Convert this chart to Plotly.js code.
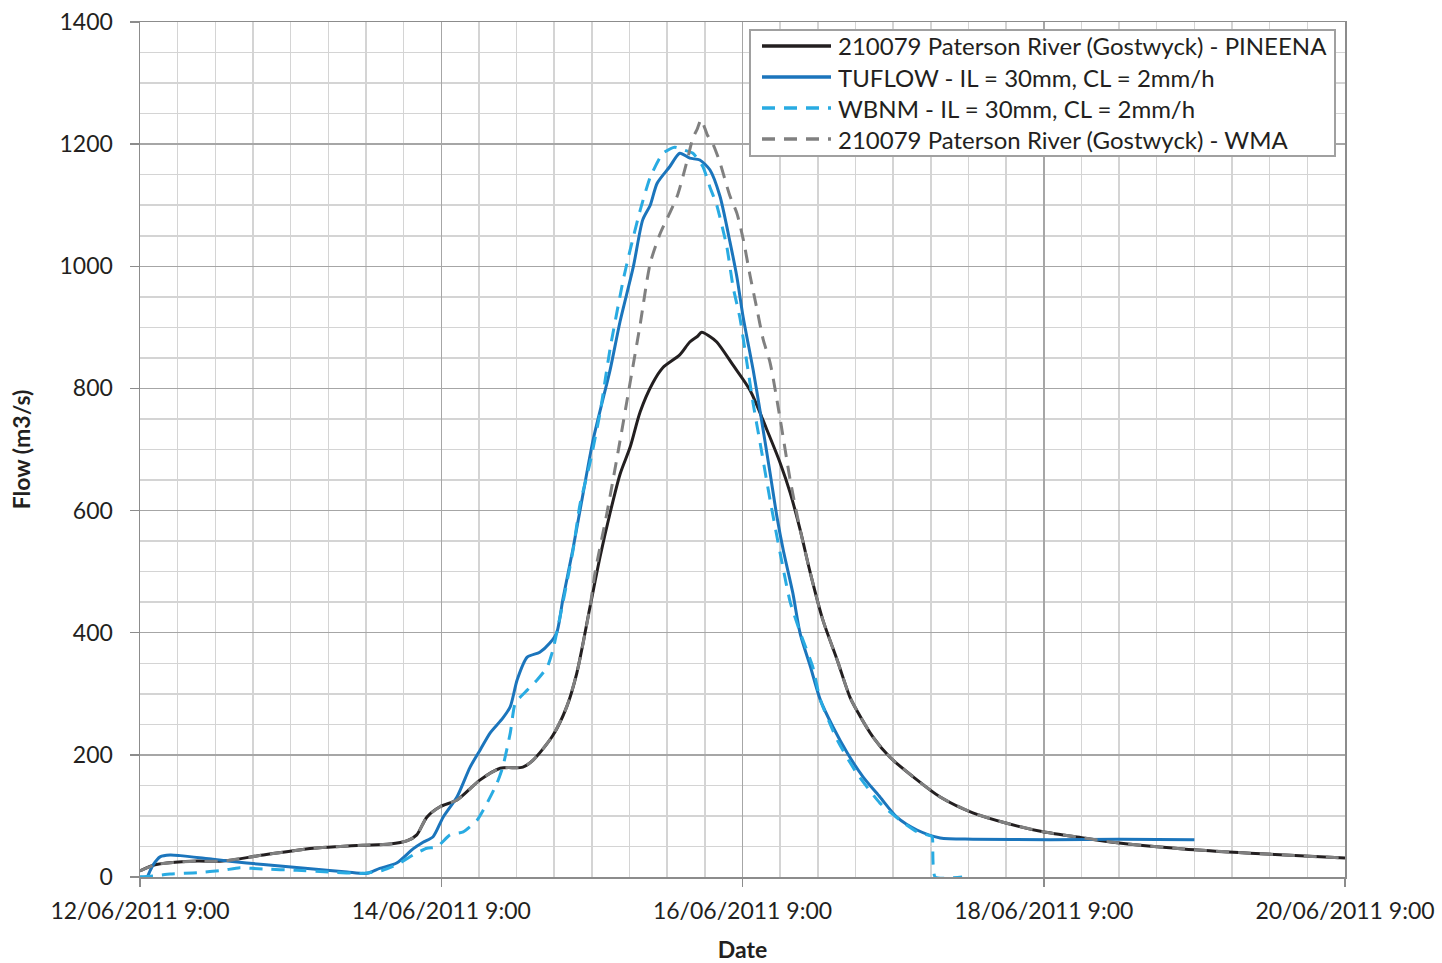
<!DOCTYPE html>
<html>
<head>
<meta charset="utf-8">
<script src="https://cdn.plot.ly/plotly-3.0.1.min.js"></script>
<style>
html,body{margin:0;padding:0;background:#fff;}
#chart{width:1442px;height:963px;}
</style>
</head>
<body>
<div id="chart"></div>
<script>
// Hours after 12/06/2011 9:00
const seriesNames = [
  "210079 Paterson River (Gostwyck) - PINEENA",
  "TUFLOW - IL = 30mm, CL = 2mm/h",
  "WBNM - IL = 30mm, CL = 2mm/h",
  "210079 Paterson River (Gostwyck) - WMA"
];

const pineenaHours = [0,2.4,5.6,9.1,13.2,19.6,27.6,31.9,35.5,39.8,42.5,44.1,45.7,47.8,50.5,54.2,57.4,61.0,62.6,65.8,68.0,69.6,71.7,73.3,74.9,76.5,78.1,79.7,81.7,83.3,86.0,87.6,88.8,89.5,90.8,91.9,94.5,97.2,99.9,102.0,103.6,105.2,106.8,108.8,111.1,113.1,114.2,116.8,119.5,123.2,127.5,132.7,138.1,143.9,150.3,155.7,166.2,176.9,192.0];
const pineenaFlow  = [10,20,24,26,26,36,47,50,52,54,59,69,98,115,126,159,178,180,191,232,279,334,442,524,596,660,704,762,809,834,855,876,885,892,885,876,838,797,732,678,629,568,498,421,355,295,273,229,196,164,131,105,88,74,64,56,46,39,31];

const tuflowHours = [0,1.1,1.6,2.1,3.2,4.8,6.4,11.6,17.0,22.3,27.6,33.0,36.2,38.2,40.9,43.5,45.1,46.7,48.3,50.5,52.6,54.2,55.8,57.8,59.0,60.1,61.7,63.7,65.3,66.4,67.4,69.0,70.6,72.2,73.8,74.9,76.5,78.6,80.1,81.3,82.4,84.4,86.0,87.6,89.2,90.8,92.4,94.0,95.1,96.1,97.7,98.8,100.4,101.5,102.5,104.0,105.2,106.8,108.4,110.4,112.7,115.2,117.9,120.6,123.8,127.5,132.7,145.0,156.1,168.0];
const tuflowFlow  = [0,0,10,20,33,36,35,29,23,18,13,8,6,14,23,46,57,66,98,131,180,208,236,260,279,323,360,368,383,400,456,538,628,716,784,830,910,999,1076,1100,1136,1163,1185,1177,1174,1158,1115,1040,983,917,830,763,661,589,535,466,398,345,290,246,203,164,131,98,77,64,62,61,62,61];

const wbnmHours = [0,2.4,4.8,9.1,13.2,15.9,19.6,25.0,30.3,35.5,38.7,40.9,43.5,45.7,47.3,49.4,51.5,53.7,55.3,56.9,57.8,59.0,59.8,61.7,63.3,64.9,65.8,66.4,67.4,69.0,70.1,71.7,73.3,74.9,77.0,78.1,79.7,81.3,83.3,85.2,86.8,88.1,89.7,90.8,91.9,93.5,94.5,95.6,96.7,97.7,98.8,100.4,102.0,103.6,105.2,107.2,108.4,111.1,114.2,117.9,121.1,123.8,126.2,126.3,126.7,131.0];
const wbnmFlow  = [0,2,5,7,11,15,13,11,8,6,11,20,36,47,49,69,74,93,121,154,180,236,285,306,323,344,372,400,450,535,610,678,760,865,978,1027,1092,1146,1185,1195,1190,1185,1163,1130,1100,1032,966,915,842,775,711,617,530,450,400,344,290,224,170,121,93,74,66,60,0,0];

const wmaHours = [0,2.4,5.6,9.1,13.2,19.6,27.6,31.9,35.5,39.8,42.5,44.1,45.7,47.8,50.5,54.2,57.4,61.0,62.6,65.8,68.0,69.6,71.7,72.5,74.4,76.5,78.1,79.7,81.3,82.9,84.4,85.7,87.2,88.1,88.8,89.4,90.4,91.3,92.4,94.0,95.1,96.1,97.2,98.3,99.3,100.4,102.0,103.6,105.2,106.8,108.8,111.1,113.1,114.2,116.8,119.5,123.2,127.5,132.7,138.1,143.9,150.3,155.7,166.2,176.9,192.0];
const wmaFlow  = [10,20,24,26,26,36,47,50,52,54,59,69,98,115,126,159,178,180,191,232,279,334,442,498,596,715,810,905,1005,1054,1087,1118,1174,1210,1225,1240,1215,1200,1170,1115,1087,1045,985,930,880,842,750,650,568,498,421,355,295,273,229,196,164,131,105,88,74,64,56,46,39,31];

const seriesColors = ["#231f20", "#1b75bc", "#29abe2", "#808080"];
const seriesDash = ["solid", "solid", "13px,9px", "13px,9px"];
const seriesSmooth = [0.8, 0.7, 0.5, 0.7];

const yTickVals = [0,200,400,600,800,1000,1200,1400];
const xTickLabels = ["12/06/2011 9:00","14/06/2011 9:00","16/06/2011 9:00","18/06/2011 9:00","20/06/2011 9:00"];

const base = Date.UTC(2011, 5, 12, 9, 0, 0);
function pad(n){return (n<10?"0":"")+n;}
function toDate(h){
  const d = new Date(base + Math.round(h*3600000));
  return d.getUTCFullYear()+"-"+pad(d.getUTCMonth()+1)+"-"+pad(d.getUTCDate())+" "+pad(d.getUTCHours())+":"+pad(d.getUTCMinutes())+":"+pad(d.getUTCSeconds());
}
const xTickVals = [0,48,96,144,192].map(toDate);

const hoursList = [pineenaHours, tuflowHours, wbnmHours, wmaHours];
const flowList = [pineenaFlow, tuflowFlow, wbnmFlow, wmaFlow];

const traces = hoursList.map((hs, i) => ({
  x: hs.map(toDate),
  y: flowList[i],
  type: "scatter",
  mode: "lines",
  name: seriesNames[i],
  line: {color: seriesColors[i], width: 3, dash: seriesDash[i], shape: "spline", smoothing: seriesSmooth[i]},
  showlegend: false,
  hoverinfo: "skip"
}));

const FONT = "Lato, 'Open Sans', 'DejaVu Sans', sans-serif";
const TXT = "#231f20";

// custom legend (paper coords)
const L = 140, T = 22, W = 1205, H = 855;
const px = x => (x - L) / W;
const py = y => (T + H - y) / H;
const shapes = [{
  type: "rect", xref: "paper", yref: "paper",
  x0: px(750), x1: px(1335), y0: py(156), y1: py(30),
  line: {color: "#a0a0a0", width: 2}, fillcolor: "#ffffff", layer: "above"
}];
const annotations = [];
const rowY = [46, 77, 108, 139];
for (let i = 0; i < 4; i++) {
  shapes.push({
    type: "line", xref: "paper", yref: "paper",
    x0: px(762), x1: px(831), y0: py(rowY[i]), y1: py(rowY[i]),
    line: {color: seriesColors[i], width: 3.5, dash: seriesDash[i]}, layer: "above"
  });
  annotations.push({
    xref: "paper", yref: "paper", x: px(836), y: py(rowY[i]),
    xanchor: "left", yanchor: "middle", showarrow: false,
    text: seriesNames[i], font: {family: FONT, size: 24, color: TXT}
  });
}

const layout = {
  width: 1442, height: 963,
  margin: {l: L, r: 1442 - L - W, t: T, b: 963 - T - H},
  paper_bgcolor: "#ffffff", plot_bgcolor: "#ffffff",
  showlegend: false,
  font: {family: FONT, size: 22, color: TXT},
  xaxis: {
    type: "date",
    range: [toDate(0), toDate(192)],
    tickmode: "array", tickvals: xTickVals, ticktext: xTickLabels,
    ticks: "outside", ticklen: 8, tickcolor: "#8c8c8c", tickwidth: 1.5,
    ticklabelstandoff: 5,
    showgrid: true, gridcolor: "#a6a6a6", gridwidth: 1.5,
    minor: {dtick: 21600000, tick0: toDate(0), showgrid: true, gridcolor: "#d4d4d4", gridwidth: 1.5, ticks: ""},
    showline: true, linecolor: "#8c8c8c", linewidth: 1.5, mirror: true,
    zeroline: false,
    tickfont: {family: FONT, size: 23, color: TXT},
    title: {text: "<b>Date</b>", font: {family: FONT, size: 23, color: TXT}, standoff: 22}
  },
  yaxis: {
    range: [0, 1400],
    tickmode: "array", tickvals: yTickVals,
    ticks: "outside", ticklen: 9, tickcolor: "#8c8c8c", tickwidth: 1.5,
    ticklabelstandoff: 12,
    showgrid: true, gridcolor: "#a6a6a6", gridwidth: 1.5,
    minor: {dtick: 50, tick0: 0, showgrid: true, gridcolor: "#d4d4d4", gridwidth: 1.5, ticks: ""},
    showline: true, linecolor: "#8c8c8c", linewidth: 1.5, mirror: true,
    zeroline: false,
    tickfont: {family: FONT, size: 23, color: TXT},
    title: {text: "<b>Flow (m3/s)</b>", font: {family: FONT, size: 23, color: TXT}, standoff: 22}
  },
  shapes: shapes,
  annotations: annotations
};

Plotly.newPlot("chart", traces, layout, {displayModeBar: false, staticPlot: true});
</script>
</body>
</html>
